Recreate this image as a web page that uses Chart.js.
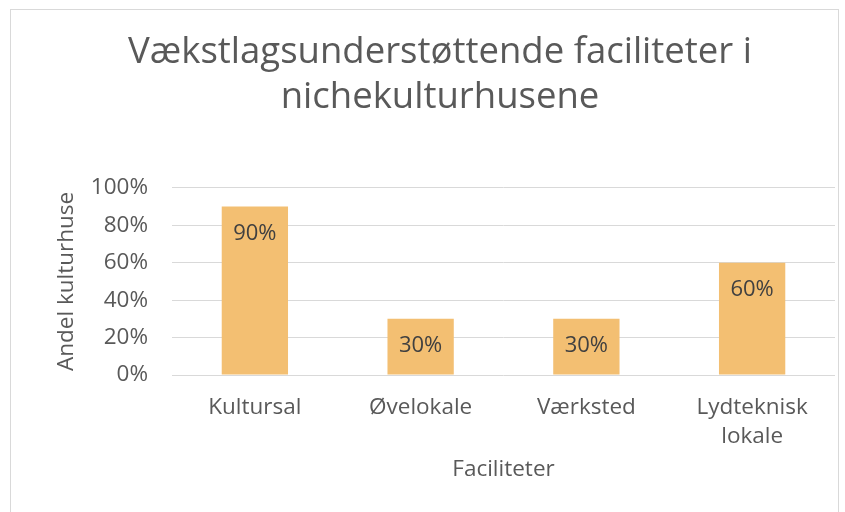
<!DOCTYPE html>
<html lang="da">
<head>
  <meta charset="UTF-8" />
  <title>Vækstlagsunderstøttende faciliteter i nichekulturhusene</title>
  <style>
    * { box-sizing: border-box; margin: 0; padding: 0; }
    html, body { width: 845px; height: 512px; background: #fff; overflow: hidden; }
    #wrap { position: absolute; left: 0; top: 0; width: 845px; height: 512px; }
    #frame {
      position: absolute; left: 10px; top: 9px; width: 829px; height: 520px;
      border: 1px solid #d9d9d9; pointer-events: none;
    }
  </style>
</head>
<body>
  <div id="wrap"><canvas id="chart" width="845" height="512"></canvas></div>
  <div id="frame"></div>

  <script src="https://cdn.jsdelivr.net/npm/chart.js"></script>
  <script>
    // data
    const titleLines = ['Vækstlagsunderstøttende faciliteter i', 'nichekulturhusene'];
    const categories = ['Kultursal', 'Øvelokale', 'Værksted', ['Lydteknisk', 'lokale']];
    const shares = [90, 30, 30, 60];
    const yTicks = [0, 20, 40, 60, 80, 100];
    const xTitle = 'Faciliteter';
    const yTitle = 'Andel kulturhuse';

    const textColor = '#595959';
    const titleFont = '"Open Sans", sans-serif';
    const axisFont = '"Open Sans", sans-serif';

    // value labels inside the bars, near the top
    const barLabels = {
      id: 'barLabels',
      afterDatasetsDraw(chart) {
        const ctx = chart.ctx;
        const meta = chart.getDatasetMeta(0);
        ctx.save();
        ctx.font = '22px ' + axisFont;
        ctx.fillStyle = '#404040';
        ctx.textAlign = 'center';
        ctx.textBaseline = 'middle';
        meta.data.forEach((bar, i) => {
          ctx.fillText(shares[i] + '%', bar.x, bar.y + 27);
        });
        ctx.restore();
      }
    };

    new Chart(document.getElementById('chart'), {
      type: 'bar',
      data: {
        labels: categories,
        datasets: [{
          data: shares,
          backgroundColor: '#f3bf72',
          barPercentage: 0.4,
          categoryPercentage: 1
        }]
      },
      plugins: [barLabels],
      options: {
        responsive: false,
        animation: false,
        layout: { padding: { left: 45, right: 10, top: 18, bottom: 10 } },
        plugins: {
          legend: { display: false },
          tooltip: { enabled: false },
          title: {
            display: true,
            text: titleLines,
            color: textColor,
            font: { family: titleFont, size: 36.5, weight: 'normal', lineHeight: 1.23 },
            padding: { top: 12, bottom: 68 }
          }
        },
        scales: {
          x: {
            grid: { display: false },
            border: { display: false },
            ticks: {
              color: textColor,
              font: { family: axisFont, size: 22.5, lineHeight: 1.25 },
              padding: 11,
              maxRotation: 0
            },
            title: {
              display: true,
              text: xTitle,
              color: textColor,
              font: { family: axisFont, size: 22.5 },
              padding: { top: 4, bottom: 19 }
            },
            afterFit(scale) { scale.height = 127; }
          },
          y: {
            min: 0,
            max: 100,
            afterBuildTicks(scale) { scale.ticks = yTicks.map(v => ({ value: v })); },
            grid: { color: '#d9d9d9', drawTicks: false },
            border: { display: false },
            ticks: {
              color: textColor,
              font: { family: axisFont, size: 22.5 },
              padding: 24,
              callback: v => v + '%'
            },
            title: {
              display: true,
              text: yTitle,
              color: textColor,
              font: { family: axisFont, size: 22.5 },
              padding: { top: 8, bottom: 0 }
            },
            afterFit(scale) { scale.width = 127; }
          }
        }
      }
    });
  </script>
</body>
</html>
